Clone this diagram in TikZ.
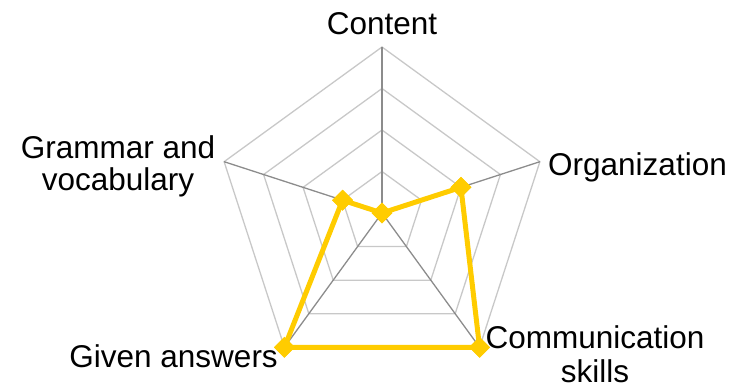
\documentclass[tikz,border=0pt]{standalone}
\usepackage{fontspec}
\setmainfont{Liberation Sans}
\usepackage{xcolor}
\definecolor{gridline}{RGB}{200, 200, 200}
\definecolor{spoke}{RGB}{140, 140, 140}
\definecolor{score}{RGB}{255, 204, 0}
\usepackage{tikz}
\usetikzlibrary{shapes.geometric, calc}
\tikzstyle{ring} = [draw=gridline, line width=1.3pt]
\tikzstyle{axis} = [draw=spoke, line width=1.3pt]
\tikzstyle{scoreline} = [draw=score, line width=5pt, line join=round]
\tikzstyle{marker} = [diamond, fill=score, inner sep=0pt, minimum size=21pt]
\tikzstyle{axislabel} = [font=\fontsize{31.5}{36}\selectfont, inner sep=0pt, align=center]

\begin{document}
\begin{tikzpicture}[x=1pt, y=1pt]
    \useasboundingbox (0,0) rectangle (736,389);
    \begin{scope}[shift={(382,176)}]
        \coordinate (centre) at (0,0);
        % grid rings
        \foreach \r in {41.5, 83, 124.5, 166}
            \draw[ring] (90:\r) -- (18:\r) -- (-54:\r) -- (-126:\r) -- (162:\r) -- cycle;
        % axes
        \foreach \a/\n in {90/content, 18/organization, -54/communication, -126/answers, 162/grammar}
            \coordinate (\n) at (\a:166);
        \foreach \n in {content, organization, communication, answers, grammar}
            \draw[axis] (centre) -- (\n);

        % scores (out of 4)
        \node[marker] (m1) at (90:0) {};
        \node[marker] (m2) at (18:83) {};
        \node[marker] (m3) at (-54:166) {};
        \node[marker] (m4) at (-126:166) {};
        \node[marker] (m5) at (162:41.5) {};
    \end{scope}

    % labels (base = last line)
    \node[axislabel, anchor=base] (lcontent) at (382,354) {Content};
    \node[axislabel, anchor=base west] (lorg) at (548,214) {Organization};
    \node[axislabel, font=\fontsize{31.5}{34}\selectfont, anchor=base] (lcomm) at (595,7) {Communication\\skills};
    \node[axislabel, anchor=base east] (lanswers) at (278,22) {Given answers};
    \node[axislabel, font=\fontsize{31.5}{32}\selectfont, anchor=base] (lgrammar) at (118,199) {Grammar and\\vocabulary};

    \draw[scoreline] (m1.center) -- (m2.center) -- (m3.center) -- (m4.center) -- (m5.center) -- cycle;
    \foreach \i in {1,...,5}
        \node[marker] at (m\i) {};
\end{tikzpicture}
\end{document}
